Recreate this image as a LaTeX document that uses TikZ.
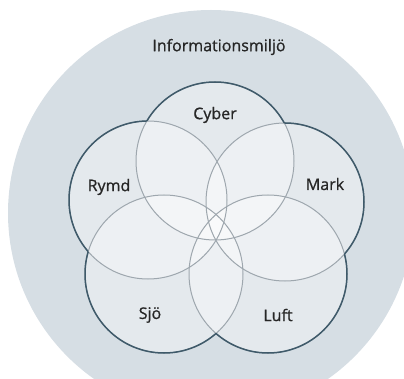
\documentclass[tikz,border=0pt]{standalone}
\usepackage{fontspec}
\setmainfont{Open Sans}
\newfontfamily\domainfont{Open Sans}[FakeBold=0.9]
\usepackage{tikz}
\definecolor{envfill}{HTML}{D6DEE4}
\definecolor{rimcol}{HTML}{3F5A6A}
\definecolor{seamcol}{HTML}{9EA7AE}
\definecolor{textcol}{HTML}{262626}
\newcommand{\domrad}{79}
\tikzset{
    %Define style for the domain circles
    domaindisc/.style={
           fill=white,
           fill opacity=0.35,
           },
    seam/.style={
           draw=seamcol,
           line width=1pt,
           },
    rim/.style={
           draw=rimcol,
           line width=1.5pt,
           },
    %Define style for texts
    domaintext/.style={
           text=textcol,
           font=\domainfont\fontsize{16}{18}\selectfont,
           inner sep=0pt,
           },
}
\begin{document}
\begin{tikzpicture}[x=1pt,y=-1pt]
\useasboundingbox (0,0) rectangle (404,379);
% information environment
\fill[envfill] (211,213) circle[radius=203];
\coordinate (cyber) at (215,161);
\coordinate (rymd) at (148,200);
\coordinate (mark) at (285,202);
\coordinate (sjo) at (164,274);
\coordinate (luft) at (268,274);
\foreach \c in {cyber,rymd,mark,sjo,luft}
    \fill[domaindisc] (\c) circle[radius=\domrad];
\foreach \c in {cyber,rymd,mark,sjo,luft}
    \draw[seam] (\c) circle[radius=\domrad];
% outer rim: each circle outside the others
\foreach \c in {cyber,rymd,mark,sjo,luft}{
    \begin{scope}[even odd rule]
    \foreach \o in {cyber,rymd,mark,sjo,luft}{
        \ifx\c\o\else
        \clip (-20,-20) rectangle (424,399) (\o) circle[radius=\domrad];
        \fi
    }
    \draw[rim] (\c) circle[radius=\domrad];
    \end{scope}
}
\node[domaintext] (env) at (219,47) {Informationsmiljö};
\node[domaintext] (cybertext) at (215,115) {Cyber};
\node[domaintext] (rymdtext) at (109,187) {Rymd};
\node[domaintext] (marktext) at (325,184) {Mark};
\node[domaintext] (sjotext) at (150,315) {Sjö};
\node[domaintext] (lufttext) at (278,315) {Luft};
\end{tikzpicture}
\end{document}
